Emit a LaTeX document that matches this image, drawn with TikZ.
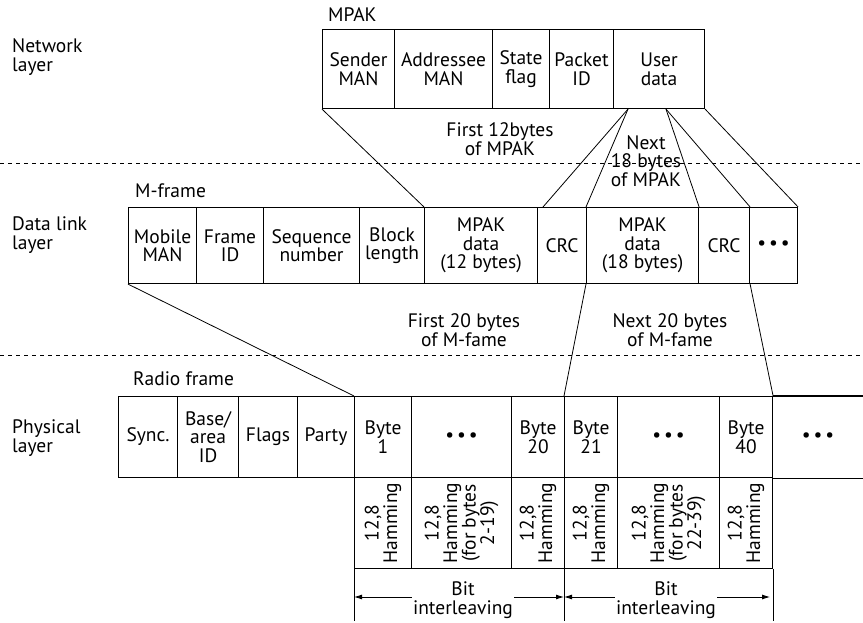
\documentclass[tikz,border=0pt]{standalone}
\usepackage{fontspec}
\setmainfont{PT Sans}
\usetikzlibrary{arrows.meta,calc}
\begin{document}
\begin{tikzpicture}[x=1pt,y=-1pt,
  every node/.style={font=\fontsize{19.5}{18.5}\selectfont, inner sep=0pt},
  cell/.style={draw, line width=1.1pt, anchor=north west, align=center},
  mp/.style={cell, minimum height=79pt},
  mf/.style={cell, minimum height=76pt},
  rf/.style={cell, minimum height=81pt},
  hm/.style={cell, minimum height=91pt},
  rot/.style={rotate=90, align=center},
  conn/.style={line width=0.8pt},
  sep/.style={line width=0.7pt, dash pattern=on 4pt off 4pt},
  arr/.style={line width=0.9pt, -{Latex[length=8pt,width=5pt]}},
  lbl/.style={align=center}
]
\useasboundingbox (0,0) rectangle (863,623);

% separators
\draw[sep] (0,163) -- (863,163);
\draw[sep] (0,355) -- (863,355);

% layer labels
\node[anchor=west, align=left] (netl) at (12,57) {Network\\layer};
\node[anchor=west, align=left] (dll) at (12,235) {Data link\\layer};
\node[anchor=west, align=left] (phl) at (12,438) {Physical\\layer};

% group labels
\node[anchor=base west] (mpakl) at (328,22) {MPAK};
\node[anchor=base west] (mfl) at (135,197) {M-frame};
\node[anchor=base west] (rfl) at (133,385) {Radio frame};

% MPAK
\node[mp, minimum width=72pt] (snd) at (322,29) {Sender\\MAN};
\node[mp, minimum width=98pt] (adr) at (394,29) {Addressee\\MAN};
\node[mp, minimum width=57pt] (stf) at (492,29) {State\\flag};
\node[mp, minimum width=64pt] (pid) at (549,29) {Packet\\ID};
\node[mp, minimum width=91pt] (usr) at (613,29) {User\\data};

% M-frame
\node[mf, minimum width=68pt] (mob) at (128,207) {Mobile\\MAN};
\node[mf, minimum width=67pt] (fid) at (196,207) {Frame\\ID};
\node[mf, minimum width=96pt] (seq) at (263,207) {Sequence\\number};
\node[mf, minimum width=65pt] (blk) at (359,207) {Block\\length};
\node[mf, minimum width=113pt] (mpd1) at (424,207) {MPAK\\data\\(12 bytes)};
\node[mf, minimum width=49pt] (crc1) at (537,207) {CRC};
\node[mf, minimum width=112pt] (mpd2) at (586,207) {MPAK\\data\\(18 bytes)};
\node[mf, minimum width=51pt] (crc2) at (698,207) {CRC};
\node[mf, minimum width=48pt] (dots1) at (749,207) {•\hspace{3pt}•\hspace{3pt}•};

% Radio frame
\node[rf, minimum width=59pt] (syn) at (118,396) {Sync.};
\node[rf, minimum width=61pt] (bas) at (177,396) {Base/\\area\\ID};
\node[rf, minimum width=59pt] (flg) at (238,396) {Flags};
\node[rf, minimum width=57pt] (par) at (297,396) {Party};
\node[rf, minimum width=57pt] (b1) at (354,396) {Byte\\1};
\node[rf, minimum width=100pt] (bd1) at (411,396) {•\hspace{3pt}•\hspace{3pt}•};
\node[rf, minimum width=53pt] (b20) at (511,396) {Byte\\20};
\node[rf, minimum width=53pt] (b21) at (564,396) {Byte\\21};
\node[rf, minimum width=102pt] (bd2) at (617,396) {•\hspace{3pt}•\hspace{3pt}•};
\node[rf, minimum width=53pt] (b40) at (719,396) {Byte\\40};
\node[rf, draw=none, minimum width=91pt] (bd3) at (772,396) {•\hspace{3pt}•\hspace{3pt}•};
\draw[line width=1.1pt] (b40.north east) -- (b40.north east -| bd3.east);
\draw[line width=1.1pt] (b40.south east) -- (b40.south east -| bd3.east);

% Hamming cells
\node[hm, minimum width=57pt] (h1) at (354,477) {};
\node[hm, minimum width=100pt] (h2) at (411,477) {};
\node[hm, minimum width=53pt] (h3) at (511,477) {};
\node[hm, minimum width=53pt] (h4) at (564,477) {};
\node[hm, minimum width=102pt] (h5) at (617,477) {};
\node[hm, minimum width=53pt] (h6) at (719,477) {};
\node[rot] (t1) at (h1.center) {12,8\\Hamming};
\node[rot] (t2) at (h2.center) {12,8\\Hamming\\(for bytes\\2-19)};
\node[rot] (t3) at (h3.center) {12,8\\Hamming};
\node[rot] (t4) at (h4.center) {12,8\\Hamming};
\node[rot] (t5) at (h5.center) {12,8\\Hamming\\(for bytes\\22-39)};
\node[rot] (t6) at (h6.center) {12,8\\Hamming};

% bit interleaving
\coordinate (v1) at ($(h1.south west)+(0,52)$);
\coordinate (v2) at ($(h4.south west)+(0,52)$);
\coordinate (v3) at ($(h6.south east)+(0,52)$);
\draw[conn] (h1.south west) -- (v1);
\draw[conn] (h4.south west) -- (v2);
\draw[conn] (h6.south east) -- (v3);
\coordinate (ay) at (0,597);
\node[lbl, inner xsep=1pt] (bi1) at (463,600) {Bit\\interleaving};
\node[lbl, inner xsep=1pt] (bi2) at (666,600) {Bit\\interleaving};
\draw[arr] (bi1.west |- ay) -- (v1 |- ay);
\draw[arr] (bi1.east |- ay) -- (v2 |- ay);
\draw[arr] (bi2.west |- ay) -- (v2 |- ay);
\draw[arr] (bi2.east |- ay) -- ($(v3 |- ay)+(-3,0)$);

% mid labels
\node[lbl] (l12) at (500,139) {First 12bytes\\of MPAK};
\node[lbl] (l18) at (646,161) {Next\\18 bytes\\of MPAK};
\node[lbl] (lf20) at (464,330) {First 20 bytes\\of M-fame};
\node[lbl] (ln20) at (670,330) {Next 20 bytes\\of M-fame};

% connectors MPAK -> M-frame
\coordinate (u1) at ($(usr.south west)+(15,0)$);
\coordinate (u2) at ($(usr.south west)+(53,0)$);
\draw[conn] (snd.south west) -- (mpd1.north west);
\draw[conn] (u1) -- ($(crc1.north west)+(6,0)$);
\draw[conn] (u1) -- (mpd2.north west);
\draw[conn] (u2) -- (mpd2.north east);
\draw[conn] (u2) -- (crc2.north east);
\draw[conn] (usr.south east) -- (dots1.north east);

% connectors M-frame -> radio frame
\draw[conn] (mob.south west) -- (b1.north west);
\draw[conn] (mpd2.south west) -- (b21.north west);
\draw[conn] (crc2.south east) -- (b40.north east);
\end{tikzpicture}
\end{document}
